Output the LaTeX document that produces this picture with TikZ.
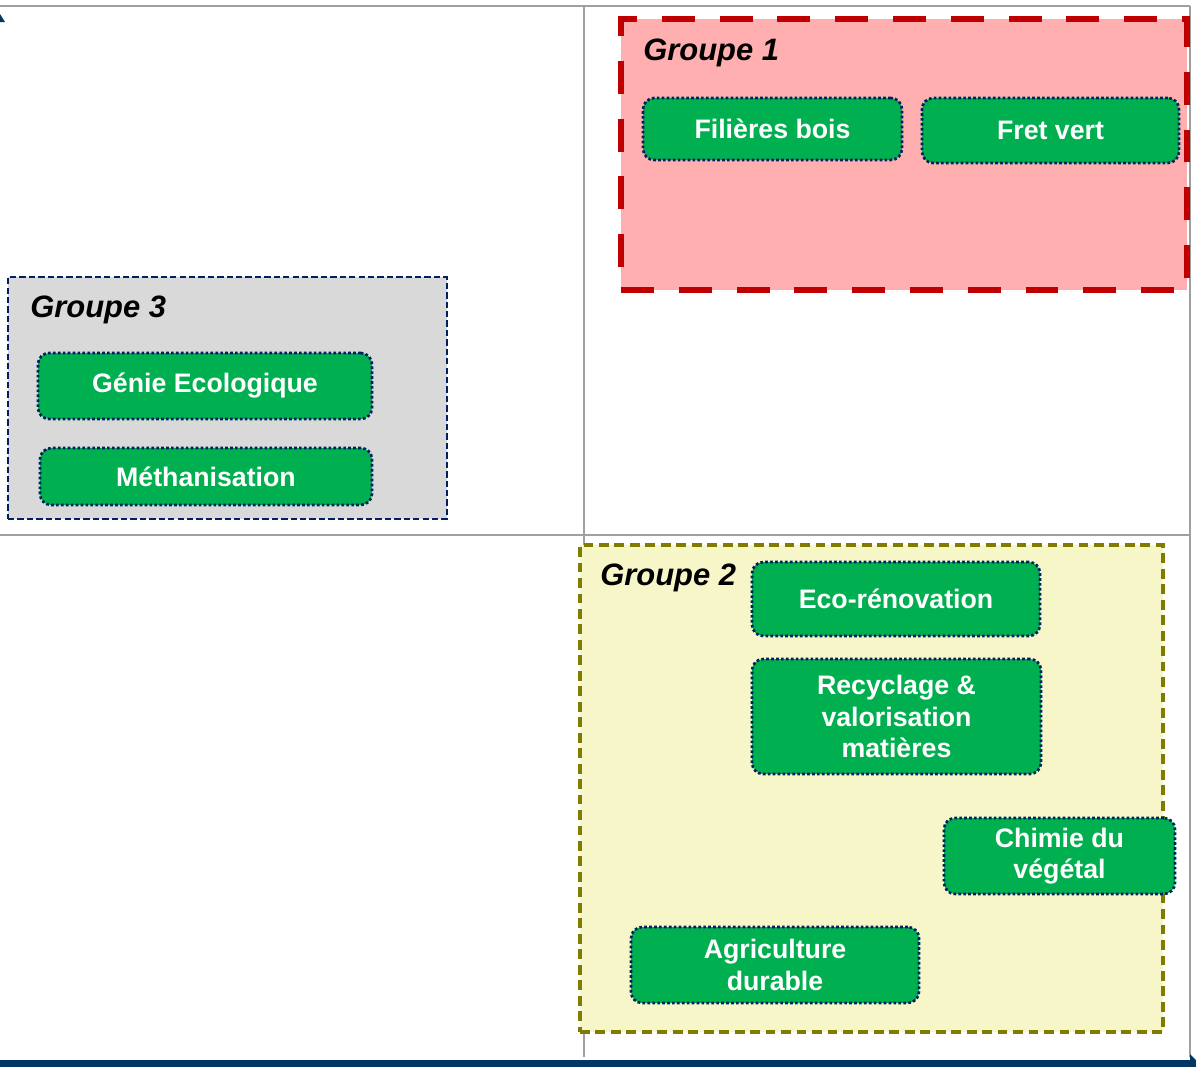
\documentclass[tikz,border=0pt]{standalone}
\usepackage{fontspec}
\setmainfont{Liberation Sans}
\usetikzlibrary{fit}
\usepackage{xcolor}
\definecolor{vert}{HTML}{00B050}
\definecolor{marine}{HTML}{002060}
\definecolor{rouge}{HTML}{C00000}
\definecolor{rose}{HTML}{FFAFAF}
\definecolor{olive}{HTML}{807C00}
\definecolor{paille}{HTML}{F7F6C8}
\definecolor{gris}{HTML}{D9D9D9}
\definecolor{trait}{HTML}{A0A0A0}
\definecolor{bandeau}{HTML}{003764}

\tikzset{
 item/.style={fill=vert, draw=marine, line width=1.9pt, dash pattern=on 1.9pt off 1.6pt,
   rounded corners=8pt, inner sep=0pt, text=white, align=center,
   font=\fontsize{19}{22.5}\selectfont\bfseries},
 taille/.style 2 args={minimum width=#1*0.025cm, minimum height=#2*0.025cm},
 titre/.style={anchor=base west, inner sep=0pt, font=\fontsize{22}{26}\selectfont\bfseries\itshape},
 groupe/.style={inner sep=0pt}
}

\begin{document}
\begin{tikzpicture}[x=0.025cm, y=-0.025cm]
\useasboundingbox (0,0) rectangle (1196,1067);
% quadrants
\draw[trait, line width=1.4pt] (0,6)--(1190,6);
\draw[trait, line width=1.4pt] (0,535)--(1190,535);
\foreach \x in {584,1190} {
 \draw[trait, line width=1.4pt] (\x,6)--(\x,1057);
}
\fill[bandeau] (0,1060) rectangle (1196,1067);
\fill[bandeau] (0,14)--(5,22)--(0,22)--cycle;
\fill[bandeau] (1190,1054)--(1196,1060)--(1190,1060)--cycle;

% groupe 1
\node[groupe, fill=rose, draw=rouge, line width=4.2pt, dash pattern=on 23.4pt off 17.7pt,
  fit={(621,19)(1187,290)}] (g1) {};
\node[titre] (t1) at (643,60) {Groupe 1};
\node[item, taille={259}{62}] (bois) at (772.5,129) {Filières bois};
\node[item, taille={257}{65}] (fret) at (1050.5,130.5) {Fret vert};

% groupe 3
\node[groupe, fill=gris, draw=marine, line width=1.4pt, dash pattern=on 4.5pt off 2.2pt,
  fit={(8,277)(447,519)}] (g3) {};
\node[titre] (t3) at (30,317) {Groupe 3};
\node[item, taille={334}{66}] (genie) at (205,386) {Génie Ecologique};
\node[item, taille={332}{57}] (metha) at (206,476.5) {Méthanisation};

% groupe 2
\node[groupe, fill=paille, draw=olive, line width=2.5pt, dash pattern=on 7pt off 4pt,
  fit={(580,545)(1163,1032)}] (g2) {};
\node[titre] (t2) at (600,585) {Groupe 2};
\node[item, taille={288}{74}] (reno) at (896,599) {Eco-rénovation};
\node[item, taille={289}{115}] (recy) at (896.5,716.5) {Recyclage \&\\valorisation\\matières};
\node[item, taille={231}{76}] (chimie) at (1059.5,856) {Chimie du\\végétal};
\node[item, taille={288}{76}] (agri) at (775,965) {Agriculture\\durable};
\end{tikzpicture}
\end{document}
